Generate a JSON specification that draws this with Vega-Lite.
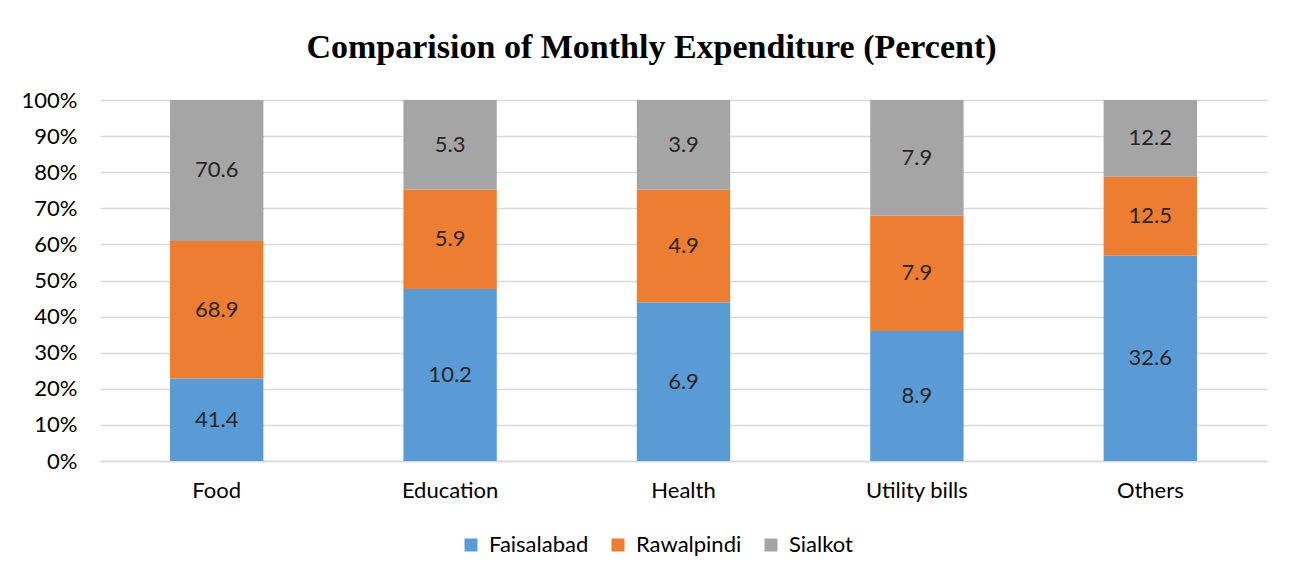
{
  "$schema": "https://vega.github.io/schema/vega-lite/v6.json",
  "width": 1167,
  "height": 361,
  "autosize": {"type": "none"},
  "padding": {"left": 100, "top": 100, "right": 28, "bottom": 118},
  "background": "white",
  "title": {
    "text": "Comparision of Monthly Expenditure (Percent)",
    "font": "Liberation Serif",
    "fontSize": 34,
    "fontWeight": "bold",
    "color": "#000000",
    "anchor": "middle",
    "dx": -32,
    "offset": 24
  },
  "data": {
    "values": [
      {"category": "Food", "city": "Faisalabad", "order": 1, "value": 41.4},
      {"category": "Food", "city": "Rawalpindi", "order": 2, "value": 68.9},
      {"category": "Food", "city": "Sialkot", "order": 3, "value": 70.6},
      {"category": "Education", "city": "Faisalabad", "order": 1, "value": 10.2},
      {"category": "Education", "city": "Rawalpindi", "order": 2, "value": 5.9},
      {"category": "Education", "city": "Sialkot", "order": 3, "value": 5.3},
      {"category": "Health", "city": "Faisalabad", "order": 1, "value": 6.9},
      {"category": "Health", "city": "Rawalpindi", "order": 2, "value": 4.9},
      {"category": "Health", "city": "Sialkot", "order": 3, "value": 3.9},
      {"category": "Utility bills", "city": "Faisalabad", "order": 1, "value": 8.9},
      {"category": "Utility bills", "city": "Rawalpindi", "order": 2, "value": 7.9},
      {"category": "Utility bills", "city": "Sialkot", "order": 3, "value": 7.9},
      {"category": "Others", "city": "Faisalabad", "order": 1, "value": 32.6},
      {"category": "Others", "city": "Rawalpindi", "order": 2, "value": 12.5},
      {"category": "Others", "city": "Sialkot", "order": 3, "value": 12.2}
    ]
  },
  "transform": [
    {"stack": "value", "groupby": ["category"], "sort": [{"field": "order", "order": "ascending"}], "offset": "normalize", "as": ["y0", "y1"]},
    {"calculate": "(datum.y0 + datum.y1) / 2", "as": "ymid"}
  ],
  "encoding": {
    "x": {
      "field": "category",
      "type": "nominal",
      "sort": ["Food", "Education", "Health", "Utility bills", "Others"],
      "scale": {"paddingInner": 0.6, "paddingOuter": 0.3},
      "axis": {
        "title": null,
        "labelAngle": 0,
        "labelFont": "Lato",
        "labelFontSize": 22,
        "labelColor": "#000000",
        "labelPadding": 19,
        "ticks": false,
        "domainColor": "#D9D9D9",
        "domainWidth": 1.5
      }
    }
  },
  "layer": [
    {
      "mark": {"type": "bar"},
      "encoding": {
        "y": {
          "field": "y0",
          "type": "quantitative",
          "scale": {"domain": [0, 1]},
          "axis": {"title": null, "format": ".0%", "values": [0, 0.1, 0.2, 0.3, 0.4, 0.5, 0.6, 0.7, 0.8, 0.9, 1]}
        },
        "y2": {"field": "y1"},
        "color": {
          "field": "city",
          "type": "nominal",
          "scale": {"domain": ["Faisalabad", "Rawalpindi", "Sialkot"], "range": ["#5B9BD5", "#ED7D31", "#A5A5A5"]},
          "legend": {
            "title": null,
            "orient": "none",
            "direction": "horizontal",
            "legendX": 360,
            "legendY": 434,
            "symbolType": "square",
            "symbolSize": 169,
            "symbolStrokeWidth": 0,
            "labelFont": "Lato",
            "labelFontSize": 22,
            "labelColor": "#000000",
            "columnPadding": 18,
            "labelOffset": 7
          }
        }
      }
    },
    {
      "mark": {"type": "text", "font": "Lato", "fontSize": 22, "color": "#262626", "baseline": "middle"},
      "encoding": {
        "y": {"field": "ymid", "type": "quantitative", "axis": {"title": null, "format": ".0%", "values": [0, 0.1, 0.2, 0.3, 0.4, 0.5, 0.6, 0.7, 0.8, 0.9, 1]}},
        "text": {"field": "value", "type": "quantitative", "format": ".1f"}
      }
    }
  ],
  "config": {
    "view": {"stroke": null},
    "axisY": {
      "labelOverlap": false,
      "labelFont": "Lato",
      "labelFontSize": 22,
      "labelColor": "#000000",
      "labelPadding": 23,
      "ticks": false,
      "domain": false,
      "grid": true,
      "gridColor": "#D9D9D9",
      "gridWidth": 1.5
    }
  }
}
